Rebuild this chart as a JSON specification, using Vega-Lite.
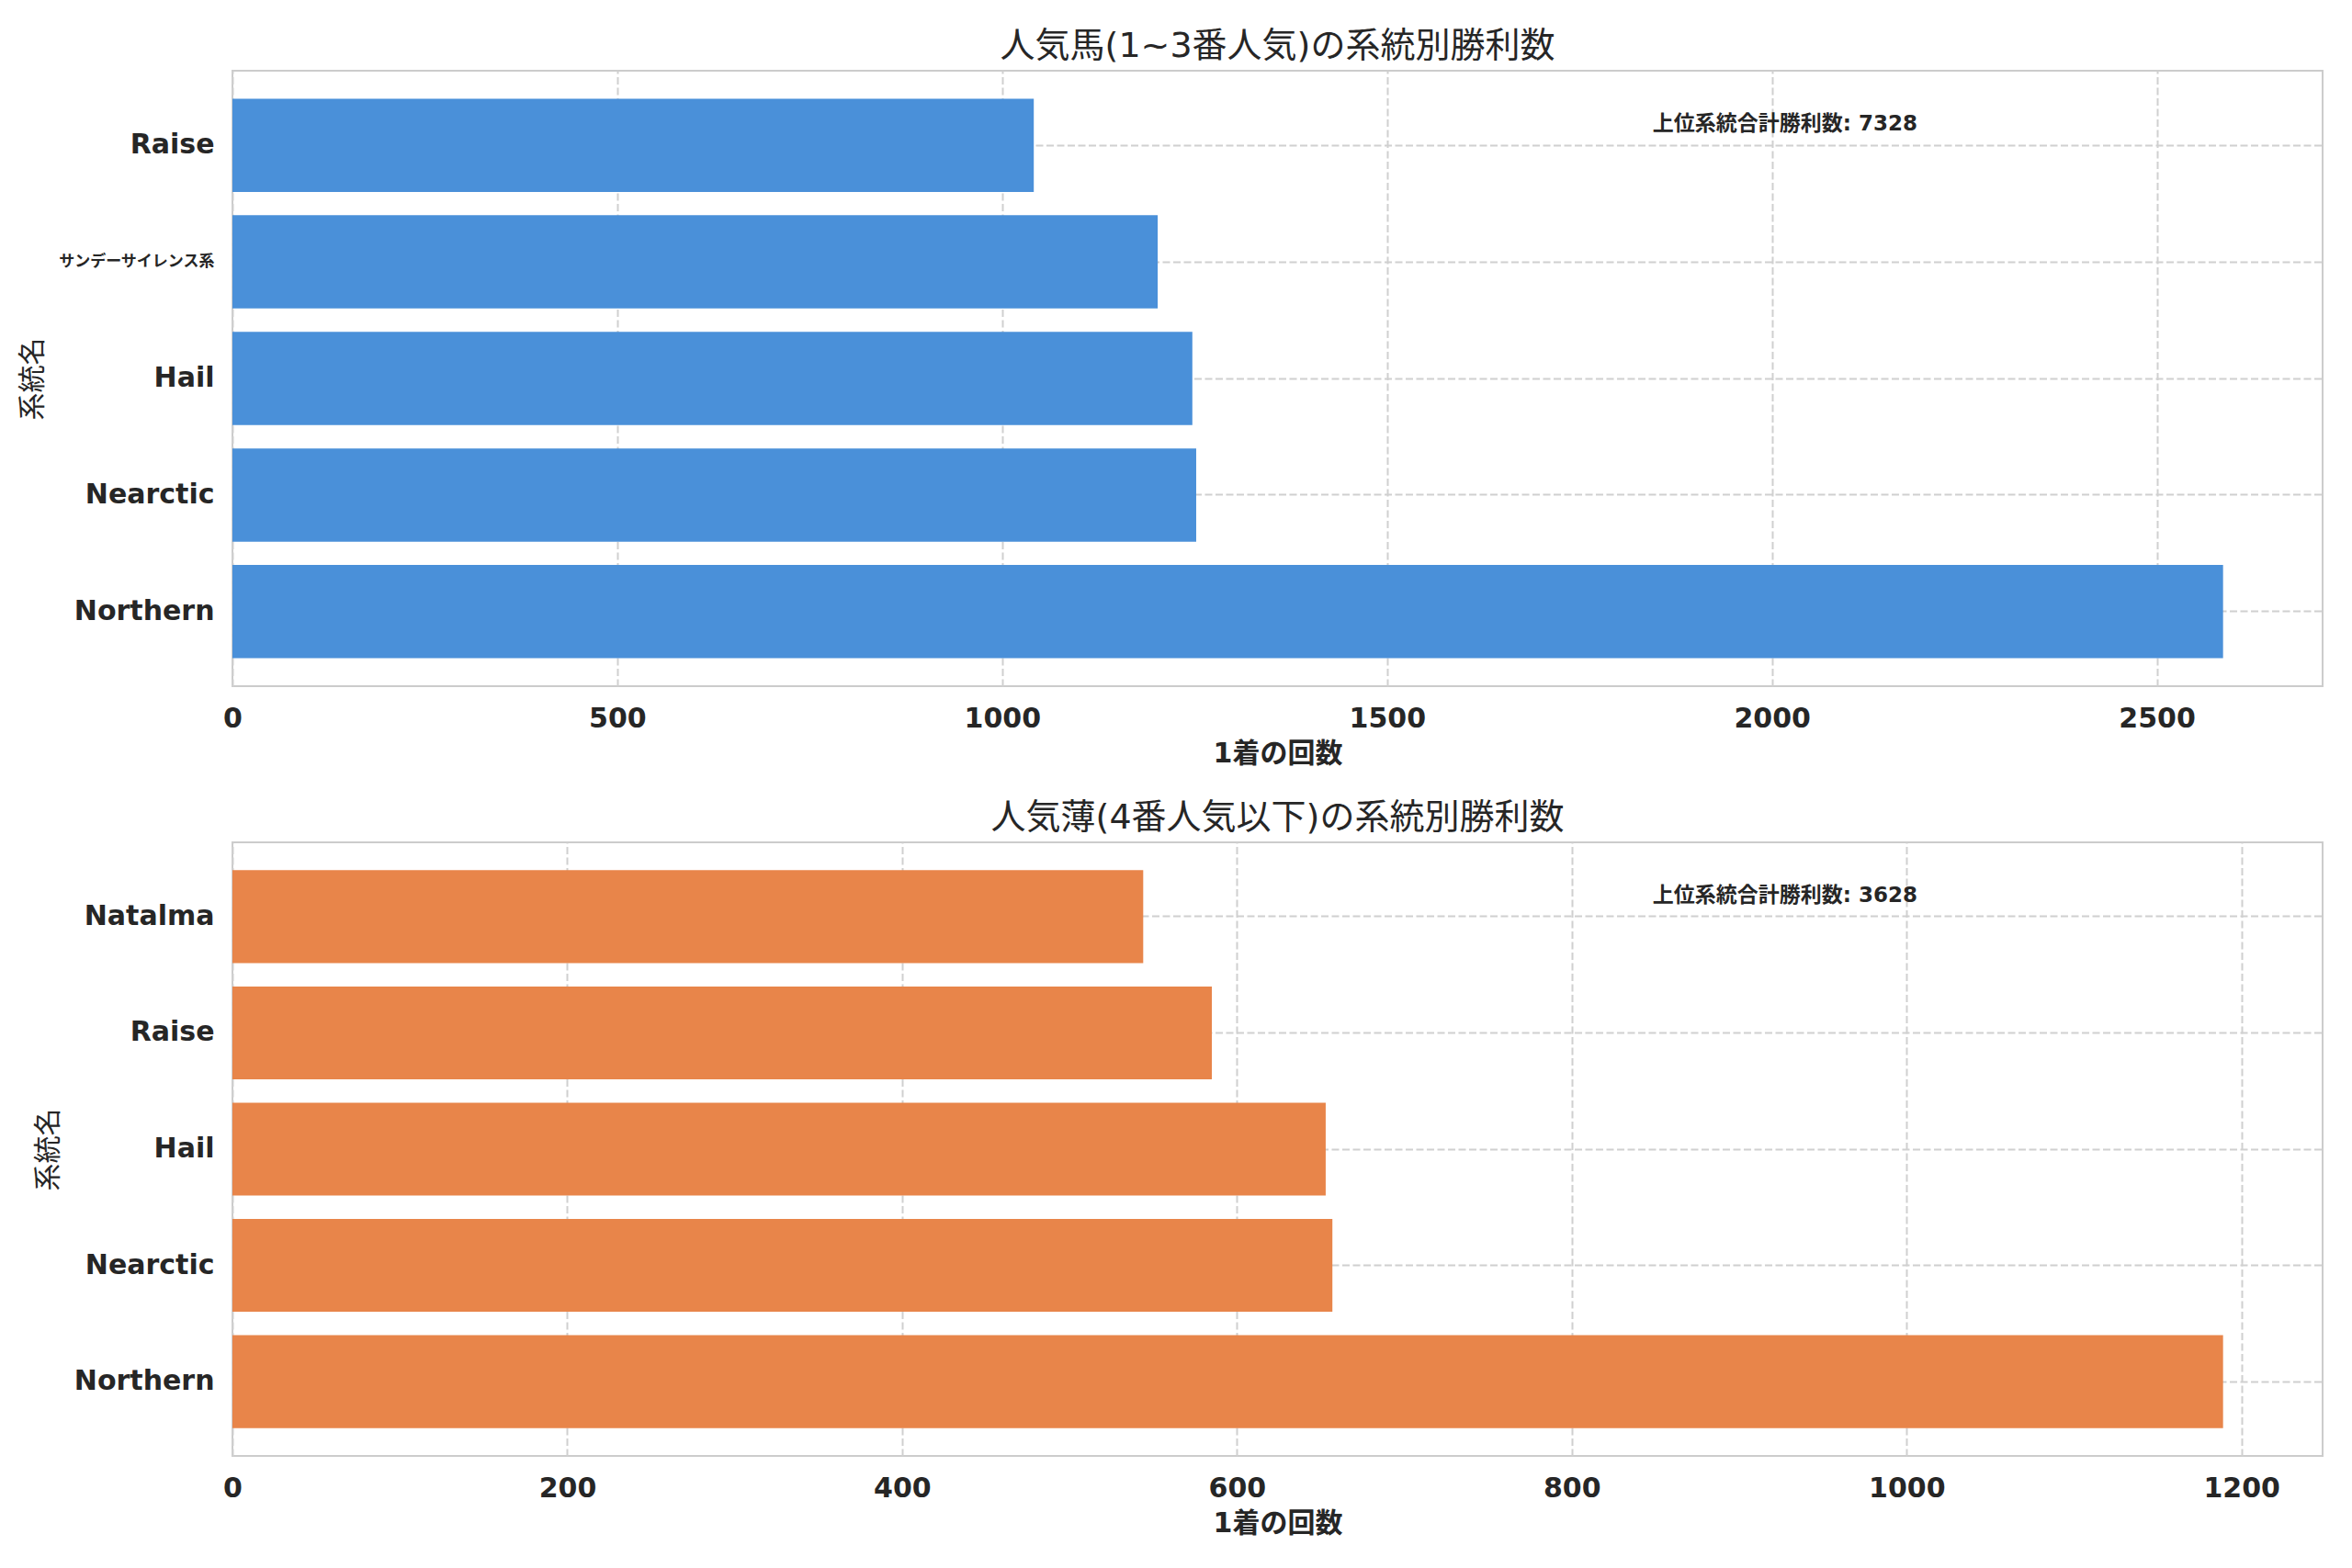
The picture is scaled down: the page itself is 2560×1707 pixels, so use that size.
{
  "$schema": "https://vega.github.io/schema/vega-lite/v6.json",
  "background": "white",
  "padding": {"left": 19, "top": 31, "right": 31, "bottom": 5},
  "spacing": 35,
  "config": {
    "font": "DejaVu Sans, Noto Sans CJK JP",
    "view": {"stroke": "#cccccc", "strokeWidth": 2},
    "title": {"fontSize": 38, "fontWeight": "normal", "color": "#262626", "offset": 7},
    "axis": {
      "domain": false,
      "ticks": false,
      "grid": true,
      "labelFontSize": 30,
      "labelFontWeight": "bold",
      "labelColor": "#262626",
      "titleColor": "#262626",
      "titleFontSize": 30,
      "gridColor": "#d0d0d0",
      "gridWidth": 2,
      "gridDash": [8, 3.5]
    },
    "axisX": {"labelPadding": 20, "titlePadding": 8, "titleFontWeight": "bold", "labelFlush": false, "format": "d"},
    "axisY": {"labelPadding": 20, "titlePadding": 13, "titleFontWeight": "normal", "bandPosition": 0.5}
  },
  "vconcat": [
    {
      "width": 2275,
      "height": 670,
      "title": "人気馬(1~3番人気)の系統別勝利数",
      "layer": [
        {
          "data": {
            "values": [
              {"line": "Raise", "wins": 1041},
              {"line": "サンデーサイレンス系", "wins": 1202},
              {"line": "Hail", "wins": 1247},
              {"line": "Nearctic", "wins": 1252},
              {"line": "Northern", "wins": 2586}
            ]
          },
          "mark": {"type": "bar", "color": "#4a90d9"},
          "encoding": {
            "x": {
              "field": "wins",
              "type": "quantitative",
              "title": "1着の回数",
              "scale": {"domain": [0, 2715.3], "nice": false},
              "axis": {"values": [0, 500, 1000, 1500, 2000, 2500]}
            },
            "y": {
              "field": "line",
              "type": "nominal",
              "title": "系統名",
              "scale": {
                "domain": ["Raise", "サンデーサイレンス系", "Hail", "Nearctic", "Northern"],
                "paddingInner": 0.2,
                "paddingOuter": 0.24
              },
              "axis": {
                "grid": true,
                "labelFontSize": {
                  "condition": {"test": "datum.value == 'サンデーサイレンス系'", "value": 17},
                  "value": 30
                }
              }
            }
          }
        },
        {
          "data": {"values": [{"note": "上位系統合計勝利数: 7328"}]},
          "mark": {"type": "text", "fontSize": 23, "fontWeight": "bold", "color": "#262626", "dy": -23},
          "encoding": {
            "x": {"datum": 2017},
            "y": {"datum": "Raise"},
            "text": {"field": "note"}
          }
        }
      ]
    },
    {
      "width": 2275,
      "height": 668,
      "title": "人気薄(4番人気以下)の系統別勝利数",
      "layer": [
        {
          "data": {
            "values": [
              {"line": "Natalma", "wins": 544},
              {"line": "Raise", "wins": 585},
              {"line": "Hail", "wins": 653},
              {"line": "Nearctic", "wins": 657},
              {"line": "Northern", "wins": 1189}
            ]
          },
          "mark": {"type": "bar", "color": "#e8854a"},
          "encoding": {
            "x": {
              "field": "wins",
              "type": "quantitative",
              "title": "1着の回数",
              "scale": {"domain": [0, 1248.45], "nice": false},
              "axis": {"values": [0, 200, 400, 600, 800, 1000, 1200]}
            },
            "y": {
              "field": "line",
              "type": "nominal",
              "title": "系統名",
              "scale": {
                "domain": ["Natalma", "Raise", "Hail", "Nearctic", "Northern"],
                "paddingInner": 0.2,
                "paddingOuter": 0.24
              },
              "axis": {"grid": true}
            }
          }
        },
        {
          "data": {"values": [{"note": "上位系統合計勝利数: 3628"}]},
          "mark": {"type": "text", "fontSize": 23, "fontWeight": "bold", "color": "#262626", "dy": -23},
          "encoding": {
            "x": {"datum": 927.4},
            "y": {"datum": "Natalma"},
            "text": {"field": "note"}
          }
        }
      ]
    }
  ]
}
